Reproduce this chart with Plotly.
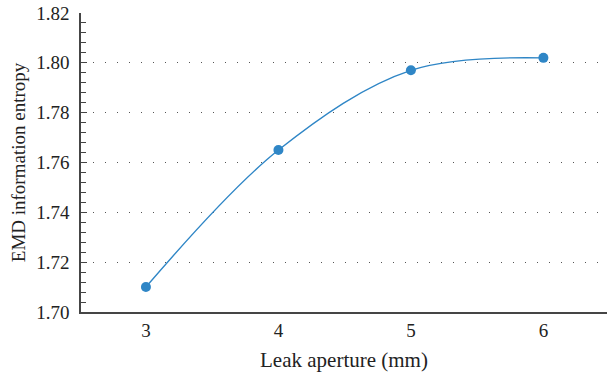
import plotly.graph_objects as go

# Leak aperture (mm) vs. EMD information entropy
apertures = [3, 4, 5, 6]
entropy = [1.710, 1.765, 1.797, 1.802]
y_ticks = [1.70, 1.72, 1.74, 1.76, 1.78, 1.80, 1.82]
y_tick_labels = ["1.70", "1.72", "1.74", "1.76", "1.78", "1.80", "1.82"]

BLUE = "#2f86c6"
AXIS = "#454545"
FONT = "Liberation Serif"
SIZE = 19

fig = go.Figure()
fig.add_trace(go.Scatter(
    x=apertures,
    y=entropy,
    mode="lines+markers",
    line=dict(color=BLUE, width=1.4, shape="spline", smoothing=1.0),
    marker=dict(color=BLUE, size=10),
    showlegend=False,
))

fig.update_layout(
    width=608,
    height=374,
    margin=dict(l=81, r=1, t=13, b=62),
    paper_bgcolor="white",
    plot_bgcolor="white",
    font=dict(family=FONT, size=SIZE, color="#222222"),
    xaxis=dict(
        range=[2.51, 6.48],
        tickvals=apertures,
        ticktext=[str(a) for a in apertures],
        tickfont=dict(family=FONT, size=SIZE),
        showgrid=False,
        zeroline=False,
        showline=True,
        linecolor=AXIS,
        linewidth=1.6,
        ticks="",
        ticklabelstandoff=0,
        title=dict(text="Leak aperture (mm)", font=dict(family=FONT, size=21), standoff=13),
    ),
    yaxis=dict(
        range=[1.70, 1.82],
        tickvals=y_ticks,
        ticktext=y_tick_labels,
        tickfont=dict(family=FONT, size=SIZE),
        showgrid=True,
        gridcolor="#555555",
        gridwidth=1,
        griddash="1px,11px",
        zeroline=False,
        showline=True,
        linecolor=AXIS,
        linewidth=1.6,
        ticks="inside",
        ticklen=6,
        tickcolor=AXIS,
        tickwidth=1.4,
        ticklabelstandoff=6,
        minor=dict(
            dtick=0.004,
            ticks="inside",
            ticklen=5,
            tickcolor=AXIS,
            tickwidth=1.2,
            showgrid=False,
        ),
        title=dict(text="EMD information entropy", font=dict(family=FONT, size=SIZE), standoff=6),
    ),
)

fig.write_html("out.html")
